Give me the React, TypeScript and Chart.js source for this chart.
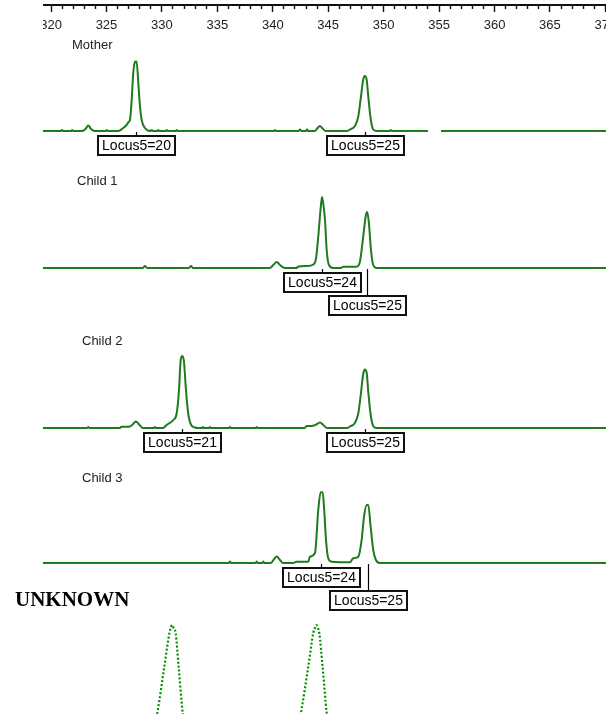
import React, { useEffect, useRef } from 'react';
import { Chart, registerables } from 'chart.js';

Chart.register(...registerables);

// Fragment-size window (bp) shared by the ruler and every trace
const SIZE_MIN = 319.62;
const SIZE_MAX = 369.71;
const RULER_MINOR_STEP = 1;
const RULER_MAJOR_STEP = 5;

// Mother
const MOTHER_BP = [
  319.62, 321.2, 321.31, 321.42, 322.15, 322.22, 322.3, 323.1, 323.4, 323.65, 323.9, 324.2,
  325.2, 325.28, 325.36, 326.3, 326.76, 327.06, 327.27, 327.36, 327.51, 327.65, 327.8, 327.88,
  327.95, 328.1, 328.25, 328.4, 328.69, 328.96, 329.2, 329.29, 329.38, 329.8, 329.88, 329.96,
  330.55, 330.62, 330.7, 331.45, 331.51, 331.58, 340.18, 340.26, 340.34, 342.35, 342.49, 342.62,
  343.0, 343.11, 343.2, 343.8, 344.05, 344.26, 344.45, 344.75, 346.7, 346.93, 347.37, 347.67,
  347.91, 348.11, 348.26, 348.42, 348.56, 348.77, 349.0, 349.31, 350.45, 350.55, 350.65, 353.87,
  354.45, 355.03, 369.71,
];
const MOTHER_RFU = [
  0, 0, 20, 0, 0, 20, 0, 0, 40, 110, 40, 0,
  0, 20, 0, 0, 60, 120, 190, 220, 620, 1160, 1390, 1370,
  1390, 960, 490, 220, 60, 10, 0, 20, 0, 0, 20, 0,
  0, 20, 0, 0, 20, 0, 0, 20, 0, 0, 30, 0,
  0, 30, 0, 0, 60, 100, 60, 0, 0, 30, 100, 290,
  690, 1030, 1100, 1020, 690, 250, 30, 0, 0, 20, 0, 0,
  null, 0, 0,
];
const MOTHER_CALL_LABELS = ['Locus5=20', 'Locus5=25'];
const MOTHER_CALL_BP = [327.87, 348.28];
const MOTHER_CALL_ROW = [0, 0];

// Child 1
const CHILD1_BP = [
  319.62, 328.5, 328.69, 328.88, 332.6, 332.78, 332.96, 339.8, 340.1, 340.41, 340.75, 341.15,
  342.19, 342.3, 343.08, 343.67, 343.91, 344.11, 344.31, 344.44, 344.57, 344.71, 344.86, 345.06,
  345.44, 346.13, 346.33, 347.53, 347.82, 348.11, 348.35, 348.47, 348.62, 348.8, 349.0, 349.31,
  369.71,
];
const CHILD1_RFU = [
  0, 0, 40, 0, 0, 40, 0, 0, 60, 120, 50, 0,
  0, 26, 40, 70, 190, 630, 1160, 1420, 1260, 960, 360, 60,
  0, 0, 26, 26, 130, 630, 1060, 1120, 890, 360, 60, 0,
  0,
];
const CHILD1_CALL_LABELS = ['Locus5=24', 'Locus5=25'];
const CHILD1_CALL_BP = [344.42, 348.47];
const CHILD1_CALL_ROW = [0, 1];

// Child 2
const CHILD2_BP = [
  319.62, 323.55, 323.65, 323.75, 326.47, 326.6, 327.3, 327.55, 327.89, 328.25, 328.5, 329.5,
  329.58, 329.66, 330.3, 330.62, 331.21, 331.51, 331.72, 331.87, 332.01, 332.16, 332.34, 332.54,
  332.78, 333.14, 333.4, 333.8, 333.85, 333.92, 334.4, 334.47, 334.54, 336.18, 336.25, 336.32,
  338.56, 338.63, 338.7, 342.9, 343.08, 343.5, 343.85, 344.26, 344.6, 344.9, 346.7, 346.93,
  347.37, 347.67, 347.91, 348.11, 348.26, 348.42, 348.56, 348.77, 349.0, 349.31, 369.71,
];
const CHILD2_RFU = [
  0, 0, 20, 0, 0, 26, 26, 60, 130, 50, 0, 0,
  20, 0, 0, 60, 160, 290, 760, 1360, 1440, 1330, 760, 290,
  70, 10, 0, 0, 20, 0, 0, 20, 0, 0, 20, 0,
  0, 20, 0, 0, 40, 40, 60, 110, 50, 0, 0, 30,
  100, 290, 700, 1080, 1170, 1100, 720, 270, 40, 0, 0,
];
const CHILD2_CALL_LABELS = ['Locus5=21', 'Locus5=25'];
const CHILD2_CALL_BP = [331.98, 348.28];
const CHILD2_CALL_ROW = [0, 0];

// Child 3
const CHILD3_BP = [
  319.62, 336.15, 336.25, 336.35, 338.55, 338.63, 338.71, 339.15, 339.22, 339.3, 339.9, 340.15,
  340.41, 340.7, 340.97, 341.86, 342.19, 343.22, 343.37, 343.82, 344.11, 344.32, 344.5, 344.64,
  344.8, 345.0, 345.3, 346.93, 347.22, 347.67, 347.97, 348.18, 348.42, 348.56, 348.77, 349.0,
  349.24, 349.6, 369.71,
];
const CHILD3_RFU = [
  0, 0, 30, 0, 0, 30, 0, 0, 30, 0, 0, 70,
  130, 60, 0, 0, 26, 26, 126, 200, 1060, 1414, 1414, 1060,
  460, 94, 26, 14, 94, 126, 460, 926, 1160, 1160, 726, 260,
  60, 0, 0,
];
const CHILD3_CALL_LABELS = ['Locus5=24', 'Locus5=25'];
const CHILD3_CALL_BP = [344.35, 348.51];
const CHILD3_CALL_ROW = [0, 1];

// Unknown profile (only the peak tops fall inside the view)
const UNKNOWN_BP = [
  319.62, 328.6, 329.79, 330.41, 330.87, 331.02, 331.09, 331.2, 331.42, 331.69, 332.05, 332.9,
  341.5, 342.57, 343.22, 343.67, 343.85, 343.95, 344.05, 344.2, 344.5, 344.86, 345.7, 369.71,
];
const UNKNOWN_RFU = [
  0, 0, 1240, 2160, 2840, 2960, 3000, 2960, 2840, 2160, 1240, 0,
  0, 1240, 2160, 2840, 2960, 3000, 2960, 2840, 2160, 1240, 0, 0,
];

// Layout
const PLOT_LEFT = 43;
const PLOT_WIDTH = 563;
const RULER_OVERHANG = 160; // ruler canvas reaches past both clip edges
const RULER_HEIGHT = 31;
const RFU_PER_PX = 20;
const PANEL_ABOVE = 95;
const PANEL_BELOW = 55;
const TRACE_COLOR = '#1e7b1e';
const UNKNOWN_COLOR = '#008f00';
const SANS = 'Arial, "Liberation Sans", sans-serif';

const PANELS = [
  { name: 'Mother', bp: MOTHER_BP, rfu: MOTHER_RFU, labels: MOTHER_CALL_LABELS, sizes: MOTHER_CALL_BP, rows: MOTHER_CALL_ROW, baseline: 131, nameLeft: 72, nameTop: 37 },
  { name: 'Child 1', bp: CHILD1_BP, rfu: CHILD1_RFU, labels: CHILD1_CALL_LABELS, sizes: CHILD1_CALL_BP, rows: CHILD1_CALL_ROW, baseline: 268, nameLeft: 77, nameTop: 173 },
  { name: 'Child 2', bp: CHILD2_BP, rfu: CHILD2_RFU, labels: CHILD2_CALL_LABELS, sizes: CHILD2_CALL_BP, rows: CHILD2_CALL_ROW, baseline: 428, nameLeft: 82, nameTop: 333 },
  { name: 'Child 3', bp: CHILD3_BP, rfu: CHILD3_RFU, labels: CHILD3_CALL_LABELS, sizes: CHILD3_CALL_BP, rows: CHILD3_CALL_ROW, baseline: 563, nameLeft: 82, nameTop: 470 },
];

// Boxed allele calls under the trace, joined to the peak by a short stem
function alleleCallPlugin(labels: string[], sizes: number[], rows: number[]) {
  return {
    id: 'alleleCalls',
    afterDatasetsDraw(chart: any) {
      const { ctx } = chart;
      const xs = chart.scales.x;
      const ys = chart.scales.y;
      const base = Math.round(ys.getPixelForValue(0));
      ctx.save();
      ctx.font = `14px ${SANS}`;
      ctx.textAlign = 'center';
      ctx.textBaseline = 'middle';
      labels.forEach((label, i) => {
        const px = Math.round(xs.getPixelForValue(sizes[i])) + 0.5;
        const boxTop = base + 5 + rows[i] * 23;
        const w = Math.round(ctx.measureText(label).width) + 8;
        const h = 19;
        const left = Math.round(px - w / 2);
        ctx.strokeStyle = '#000';
        ctx.lineWidth = 1.2;
        ctx.beginPath();
        ctx.moveTo(px, base + 1);
        ctx.lineTo(px, boxTop);
        ctx.stroke();
        ctx.fillStyle = '#fff';
        ctx.fillRect(left, boxTop, w, h);
        ctx.lineWidth = 2;
        ctx.strokeStyle = '#111';
        ctx.strokeRect(left, boxTop, w, h);
        ctx.fillStyle = '#000';
        ctx.fillText(label, left + w / 2, boxTop + h / 2 + 1);
      });
      ctx.restore();
    },
  };
}

type TraceProps = {
  bp: number[];
  rfu: (number | null)[];
  top: number;
  height: number;
  yMin: number;
  yMax: number;
  color: string;
  dashed?: boolean;
  labels?: string[];
  sizes?: number[];
  rows?: number[];
};

function TraceChart({ bp, rfu, top, height, yMin, yMax, color, dashed, labels, sizes, rows }: TraceProps) {
  const ref = useRef<HTMLCanvasElement>(null);
  useEffect(() => {
    const points = bp.map((x, i) => ({ x, y: rfu[i] }));
    const plugins = labels ? [alleleCallPlugin(labels, sizes || [], rows || [])] : [];
    const chart = new Chart(ref.current as HTMLCanvasElement, {
      type: 'line',
      data: {
        datasets: [
          {
            data: points as any,
            borderColor: color,
            borderWidth: dashed ? 2.2 : 2,
            borderDash: dashed ? [2, 2] : [],
            pointRadius: 0,
            fill: false,
            spanGaps: false,
            cubicInterpolationMode: 'monotone',
          },
        ],
      },
      options: {
        responsive: false,
        animation: false,
        events: [],
        layout: { padding: 0, autoPadding: false } as any,
        plugins: { legend: { display: false }, tooltip: { enabled: false } },
        scales: {
          x: { type: 'linear', display: false, min: SIZE_MIN, max: SIZE_MAX, bounds: 'data' },
          y: { type: 'linear', display: false, min: yMin, max: yMax, bounds: 'data' },
        },
      },
      plugins,
    });
    return () => chart.destroy();
  }, []);
  return (
    <canvas
      ref={ref}
      width={PLOT_WIDTH}
      height={height}
      style={{ position: 'absolute', left: PLOT_LEFT, top, width: PLOT_WIDTH, height, display: 'block' }}
    />
  );
}

// Size ruler: minor ticks every bp, longer labelled ticks every 5 bp
function Ruler() {
  const ref = useRef<HTMLCanvasElement>(null);
  const rulerWidth = PLOT_WIDTH + 2 * RULER_OVERHANG;
  useEffect(() => {
    const bpPerPx = (SIZE_MAX - SIZE_MIN) / PLOT_WIDTH;
    const min = SIZE_MIN - RULER_OVERHANG * bpPerPx;
    const max = min + rulerWidth * bpPerPx;
    const isStep = (v: number, step: number) => Number.isInteger(v) && v % step === 0;
    const chart = new Chart(ref.current as HTMLCanvasElement, {
      type: 'line',
      data: { datasets: [] },
      options: {
        responsive: false,
        animation: false,
        events: [],
        layout: { padding: 0, autoPadding: false } as any,
        plugins: { legend: { display: false }, tooltip: { enabled: false } },
        scales: {
          y: { display: false },
          minor: {
            type: 'linear',
            axis: 'x',
            position: 'bottom',
            weight: 0,
            min,
            max,
            ticks: { stepSize: RULER_MINOR_STEP, display: false, includeBounds: true, autoSkip: false },
            grid: {
              drawOnChartArea: false,
              tickLength: 4,
              tickWidth: 1.4,
              tickColor: (c: any) => (isStep(c.tick.value, RULER_MINOR_STEP) ? '#111' : 'rgba(0,0,0,0)'),
            },
            border: { display: true, color: '#111', width: 2 },
            afterFit: (s: any) => { s.height = 4; },
          },
          major: {
            type: 'linear',
            axis: 'x',
            position: 'bottom',
            weight: 1,
            min,
            max,
            ticks: {
              stepSize: RULER_MAJOR_STEP,
              includeBounds: true,
              autoSkip: false,
              minRotation: 0,
              maxRotation: 0,
              padding: 6,
              color: '#222',
              font: { family: SANS, size: 13 },
              callback: (v: any) => (isStep(Number(v), RULER_MAJOR_STEP) ? String(v) : ''),
            },
            grid: {
              drawOnChartArea: false,
              tickLength: 3,
              tickWidth: 1.4,
              tickColor: (c: any) => (isStep(c.tick.value, RULER_MAJOR_STEP) ? '#111' : 'rgba(0,0,0,0)'),
            },
            border: { display: false },
            afterFit: (s: any) => { s.height = 22; },
          },
        } as any,
      },
    });
    return () => chart.destroy();
  }, []);
  return (
    <div style={{ position: 'absolute', left: PLOT_LEFT, top: 0, width: PLOT_WIDTH, height: RULER_HEIGHT, overflow: 'hidden' }}>
      <canvas
        ref={ref}
        width={rulerWidth}
        height={RULER_HEIGHT}
        style={{ position: 'absolute', left: -RULER_OVERHANG, top: 0, width: rulerWidth, height: RULER_HEIGHT, display: 'block' }}
      />
    </div>
  );
}

export default function App() {
  const panelHeight = PANEL_ABOVE + PANEL_BELOW;
  return (
    <div style={{ position: 'fixed', left: 0, top: 0, width: 606, height: 714, background: '#fff', overflow: 'hidden' }}>
      <Ruler />
      {PANELS.map((p) => (
        <React.Fragment key={p.name}>
          <TraceChart
            bp={p.bp}
            rfu={p.rfu}
            top={p.baseline - PANEL_ABOVE}
            height={panelHeight}
            yMin={-PANEL_BELOW * RFU_PER_PX}
            yMax={PANEL_ABOVE * RFU_PER_PX}
            color={TRACE_COLOR}
            labels={p.labels}
            sizes={p.sizes}
            rows={p.rows}
          />
          <div
            style={{
              position: 'absolute',
              left: p.nameLeft,
              top: p.nameTop,
              font: `13px ${SANS}`,
              lineHeight: '15px',
              color: '#222',
              whiteSpace: 'nowrap',
            }}
          >
            {p.name}
          </div>
        </React.Fragment>
      ))}
      <div
        style={{
          position: 'absolute',
          left: 15,
          top: 589,
          font: 'bold 21px "Times New Roman", "Liberation Serif", serif',
          lineHeight: '21px',
          color: '#000',
          whiteSpace: 'nowrap',
        }}
      >
        UNKNOWN
      </div>
      <TraceChart
        bp={UNKNOWN_BP}
        rfu={UNKNOWN_RFU}
        top={610}
        height={104}
        yMin={3300 - 104 * RFU_PER_PX}
        yMax={3300}
        color={UNKNOWN_COLOR}
        dashed
      />
    </div>
  );
}
